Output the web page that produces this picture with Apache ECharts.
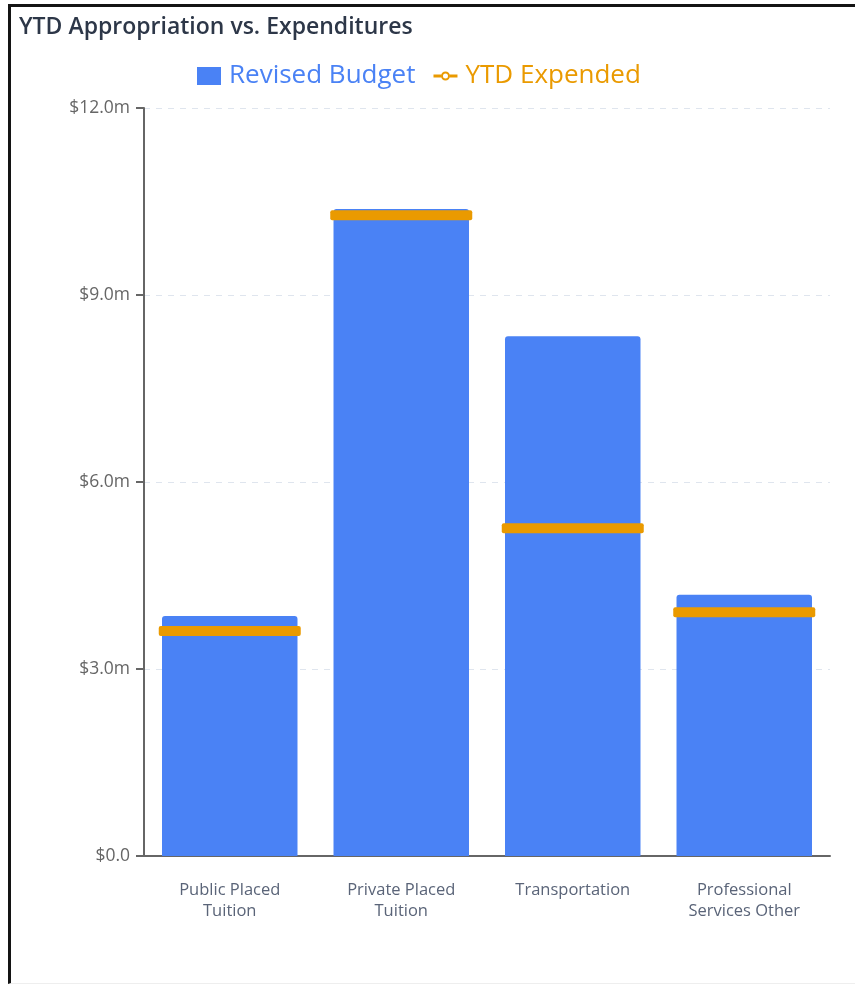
<!DOCTYPE html>
<html lang="en">
  <head>
    <meta charset="UTF-8" />
    <title>YTD Appropriation vs. Expenditures</title>
    <script src="https://cdnjs.cloudflare.com/ajax/libs/echarts/6.0.0/echarts.min.js"></script>
    <style>
      html, body { margin: 0; padding: 0; background: #fff; }
      #frame {
        position: absolute; left: 8px; top: 4px; width: 860px; height: 980px;
        border-left: 3px solid #141414; border-top: 3px solid #141414;
        border-bottom: 1px solid #eeeeee; box-sizing: border-box;
      }
      #main { position: absolute; left: 0; top: 0; width: 855px; height: 986px; }
    </style>
  </head>
  <body>
    <div id="frame"></div>
    <div id="main"></div>
    <script>
      // data, in $ millions
      var categories = ["Public Placed\nTuition", "Private Placed\nTuition", "Transportation", "Professional\nServices Other"];
      var revisedBudget = [3.85, 10.38, 8.34, 4.19];
      var ytdExpended = [3.61, 10.28, 5.26, 3.91];
      var yTicks = [0, 3, 6, 9, 12];

      var blue = "#4a82f5";
      var orange = "#ea9a00";

      // legend icon: short line with a hollow circle (padded to 24x18 box)
      var lineDotIcon =
        "path://M0,0h0.01v0.01h-0.01Z M23.99,17.99h0.01v0.01h-0.01Z " +
        "M0,7.5H7.6V10.5H0Z M16.4,7.5H24V10.5H16.4Z " +
        "M16.5,9A4.5,4.5 0 1 0 7.5,9A4.5,4.5 0 1 0 16.5,9Z " +
        "M14.5,9A2.5,2.5 0 1 1 9.5,9A2.5,2.5 0 1 1 14.5,9Z";
      // slightly rounded bar for the expended marker
      var markerPath =
        "path://M2,0H140A2,2 0 0 1 142,2V8A2,2 0 0 1 140,10H2A2,2 0 0 1 0,8V2A2,2 0 0 1 2,0Z";

      var myChart = echarts.init(document.getElementById("main"));
      var option = {
        animation: false,
        textStyle: { fontFamily: "Open Sans" },
        title: {
          text: "YTD Appropriation vs. Expenditures",
          left: 14,
          top: 11,
          textStyle: { fontSize: 23, fontWeight: 600, color: "#2d3748", fontFamily: "Open Sans" },
        },
        legend: {
          left: 192,
          top: 58,
          itemWidth: 24,
          itemHeight: 18,
          itemGap: 18,
          textStyle: { fontSize: 26, padding: [0, 0, 0, 3] },
          data: [
            { name: "Revised Budget", icon: "rect", textStyle: { color: blue } },
            { name: "YTD Expended", icon: lineDotIcon, itemStyle: { color: orange }, textStyle: { color: orange } },
          ],
        },
        grid: { left: 144, right: 25, top: 108, bottom: 130 },
        xAxis: {
          type: "category",
          data: categories,
          axisLine: { lineStyle: { color: "#666", width: 2 } },
          axisTick: { alignWithLabel: true, length: 10, lineStyle: { color: "#666", width: 2 } },
          axisLabel: { fontSize: 16.5, lineHeight: 21, color: "#5a6478", margin: 24 },
        },
        yAxis: {
          type: "value",
          min: yTicks[0],
          max: yTicks[yTicks.length - 1],
          interval: 3,
          axisLine: { show: true, lineStyle: { color: "#666", width: 2 } },
          axisTick: { show: true, length: 8, lineStyle: { color: "#666", width: 2 } },
          axisLabel: {
            fontSize: 17.5,
            color: "#666",
            margin: 14,
            formatter: function (v) {
              return v === 0 ? "$0.0" : "$" + v.toFixed(1) + "m";
            },
          },
          splitLine: { lineStyle: { color: "#dfe5ee", type: [6, 6] } },
        },
        series: [
          {
            name: "Revised Budget",
            type: "bar",
            data: revisedBudget,
            barCategoryGap: "21%",
            itemStyle: { color: blue, borderRadius: [3, 3, 0, 0] },
          },
          {
            name: "YTD Expended",
            type: "scatter",
            data: ytdExpended,
            symbol: markerPath,
            symbolSize: [142, 10],
            itemStyle: { color: orange, opacity: 1 },
            z: 5,
          },
        ],
      };
      myChart.setOption(option);
    </script>
  </body>
</html>
